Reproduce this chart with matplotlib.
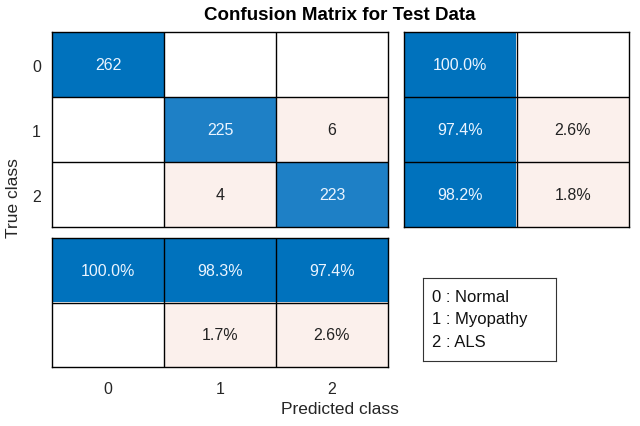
import numpy as np
import matplotlib
matplotlib.use("Agg")
import matplotlib.pyplot as plt
from matplotlib.colors import to_rgb

plt.rcParams['font.family'] = ['Liberation Sans', 'DejaVu Sans']

classes = ['0', '1', '2']
class_names = ['Normal', 'Myopathy', 'ALS']
counts = np.array([[262, 0, 0],
                   [0, 225, 6],
                   [0, 4, 223]])
row_correct = [100.0, 97.4, 98.2]
row_wrong = [0.0, 2.6, 1.8]
col_correct = [100.0, 98.3, 97.4]
col_wrong = [0.0, 1.7, 2.6]

title = 'Confusion Matrix for Test Data'
xlabel = 'Predicted class'
ylabel = 'True class'

BLUE = np.array(to_rgb('#0072BD'))
WHITE = np.array([1.0, 1.0, 1.0])
PINK = np.array(to_rgb('#FBF0EC'))
LIGHTBLUE = np.array(to_rgb('#1E80C6'))

fig = plt.figure(figsize=(6.4, 4.27), dpi=100)

ax_main = fig.add_axes([52/640, 1-228/427, 336/640, 195/427])
ax_right = fig.add_axes([404/640, 1-228/427, 225/640, 195/427])
ax_bot = fig.add_axes([52/640, 1-368/427, 336/640, 129/427])

fs = 11.5

# main matrix
n = len(classes)
rgb = np.ones((n, n, 3))
vmax = counts.max()
for i in range(n):
    for j in range(n):
        v = counts[i, j]
        if v == 0:
            rgb[i, j] = WHITE
        elif i == j:
            rgb[i, j] = BLUE if v == vmax else LIGHTBLUE
        else:
            rgb[i, j] = PINK
ax_main.imshow(rgb, aspect='auto', extent=(-0.5, n-0.5, n-0.5, -0.5))
for i in range(n):
    for j in range(n):
        v = counts[i, j]
        if v:
            ax_main.text(j, i, str(v), ha='center', va='center', fontsize=fs,
                         color='#EAF4FF' if i == j else '#222222')

# right summary
rgb_r = np.ones((n, 2, 3))
for i in range(n):
    rgb_r[i, 0] = BLUE if row_correct[i] > 0 else WHITE
    rgb_r[i, 1] = PINK if row_wrong[i] > 0 else WHITE
ax_right.imshow(rgb_r, aspect='auto', extent=(-0.5, 1.5, n-0.5, -0.5))
for i in range(n):
    if row_correct[i] > 0:
        ax_right.text(0, i, f'{row_correct[i]:.1f}%', ha='center', va='center',
                      fontsize=fs, color='#EAF4FF')
    if row_wrong[i] > 0:
        ax_right.text(1, i, f'{row_wrong[i]:.1f}%', ha='center', va='center',
                      fontsize=fs, color='#222222')

# bottom summary
rgb_b = np.ones((2, n, 3))
for j in range(n):
    rgb_b[0, j] = BLUE if col_correct[j] > 0 else WHITE
    rgb_b[1, j] = PINK if col_wrong[j] > 0 else WHITE
ax_bot.imshow(rgb_b, aspect='auto', extent=(-0.5, n-0.5, 1.5, -0.5))
for j in range(n):
    if col_correct[j] > 0:
        ax_bot.text(j, 0, f'{col_correct[j]:.1f}%', ha='center', va='center',
                    fontsize=fs, color='#EAF4FF')
    if col_wrong[j] > 0:
        ax_bot.text(j, 1, f'{col_wrong[j]:.1f}%', ha='center', va='center',
                    fontsize=fs, color='#222222')

# grid lines
for ax, nr, nc in [(ax_main, n, n), (ax_right, n, 2), (ax_bot, 2, n)]:
    for k in range(1, nc):
        ax.axvline(k - 0.5, color='black', lw=1.0)
    for k in range(1, nr):
        ax.axhline(k - 0.5, color='black', lw=1.0)
    for s in ax.spines.values():
        s.set_linewidth(1.0)
        s.set_color('black')
    ax.set_xticks([])
    ax.set_yticks([])

ax_main.set_yticks(range(n))
ax_main.set_yticklabels(classes, fontsize=fs, color='#262626')
ax_main.tick_params(axis='y', length=0, pad=8)
ax_bot.set_xticks(range(n))
ax_bot.set_xticklabels(classes, fontsize=fs, color='#262626')
ax_bot.tick_params(axis='x', length=0, pad=10)

fig.text(340/640, 1-15/427, title, ha='center', va='center', fontsize=13.5,
         fontweight='bold', color='black')
fig.text(340/640, 1-410/427, xlabel, ha='center', va='center', fontsize=12.5,
         color='#262626')
fig.text(14/640, 1-198/427, ylabel, ha='center', va='center', fontsize=12.5,
         rotation=90, color='#262626')

# class legend box
leg = fig.add_axes([423/640, 1-362/427, 133/640, 83/427])
leg.set_xticks([])
leg.set_yticks([])
for s in leg.spines.values():
    s.set_linewidth(0.8)
    s.set_color('#333333')
leg.set_xlim(0, 1)
leg.set_ylim(0, 1)
lines = [f'{c} : {nm}' for c, nm in zip(classes, class_names)]
for k, line in enumerate(lines):
    leg.text(0.07, 0.78 - k * 0.27, line, ha='left', va='center', fontsize=12,
             color='#111111')

fig.savefig('out.png', dpi=100)
